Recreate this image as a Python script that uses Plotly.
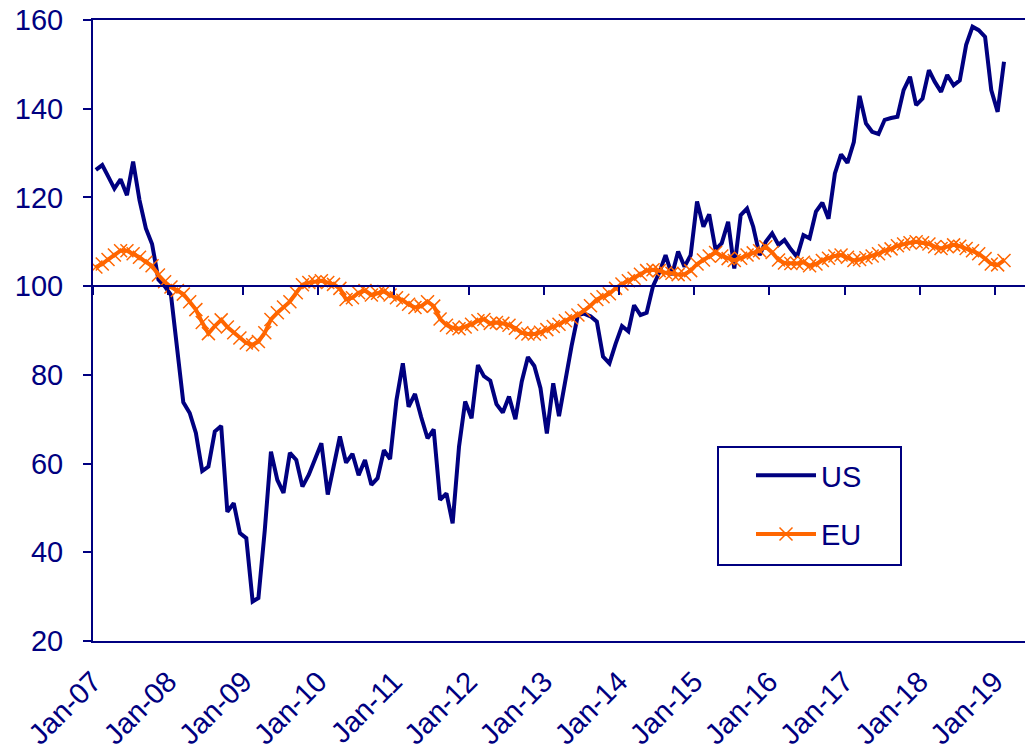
import pandas as pd
import plotly.graph_objects as go

# Monthly observations, Jan-07 .. Feb-19 (plotted mid-month)
months = pd.date_range("2007-01-01", periods=146, freq="MS") + pd.Timedelta(days=14)

us = [
    126.2, 127.3, 124.8, 122.0, 124.1, 120.5, 128.1, 119.4, 113.0, 109.5,
    101.5, 100.0, 98.0, 86.0, 73.8, 71.4, 66.9, 58.3, 59.3, 67.2,
    68.5, 49.1, 51.1, 44.3, 43.2, 28.9, 29.7, 45.0, 62.7, 56.3,
    53.4, 62.4, 60.8, 54.8, 57.5, 61.0, 64.6, 53.0, 59.5, 66.1,
    60.2, 62.2, 57.4, 60.8, 55.2, 56.7, 63.0, 61.0, 74.3, 82.6,
    72.8, 75.7, 70.5, 65.7, 67.7, 51.8, 53.3, 46.5, 63.8, 74.0,
    70.2, 82.2, 79.7, 78.7, 73.4, 71.5, 75.1, 70.0, 78.5, 84.0,
    82.0, 77.0, 66.8, 78.1, 70.7, 79.0, 86.5, 93.5, 93.8, 93.2,
    92.0, 84.1, 82.6, 87.0, 91.0, 89.8, 95.7, 93.5, 94.0, 100.0,
    103.0, 107.0, 102.5, 107.8, 104.4, 107.0, 119.1, 113.4, 116.2, 108.2,
    109.7, 114.5, 104.0, 116.0, 117.5, 113.4, 107.0, 110.0, 111.9, 109.3,
    110.4, 108.3, 106.6, 111.5, 110.8, 116.8, 118.8, 115.2, 125.4, 129.7,
    127.8, 132.5, 142.9, 136.7, 134.8, 134.3, 137.5, 137.9, 138.2, 144.2,
    147.2, 140.8, 142.3, 148.7, 146.1, 143.8, 147.6, 145.3, 146.4, 154.4,
    158.5, 157.7, 156.2, 144.2, 139.3, 150.6,
]

eu = [
    104.3, 105.0, 106.0, 107.0, 108.0, 108.0, 107.3, 106.5, 105.4, 104.6,
    102.5, 101.0, 99.8, 99.0, 98.2, 96.5, 94.7, 91.8, 89.3, 91.0,
    92.4, 90.8, 89.5, 88.3, 87.2, 86.8, 87.5, 89.5, 92.5, 94.0,
    95.3, 96.5, 98.5, 100.3, 100.8, 101.0, 101.2, 100.8, 100.4, 99.5,
    97.0, 97.4, 98.5, 99.0, 98.0, 98.4, 98.8, 98.0, 97.4, 96.8,
    95.9, 95.2, 95.5, 96.5, 95.5, 92.6, 91.2, 90.6, 90.4, 90.8,
    91.4, 92.2, 92.5, 91.6, 91.8, 91.6, 91.2, 90.5, 89.5, 89.2,
    89.2, 89.6, 90.2, 90.9, 91.4, 92.2, 92.8, 93.5, 94.5, 95.6,
    97.0, 97.6, 98.3, 99.5, 100.5, 101.2, 101.8, 102.7, 103.5, 103.7,
    103.5, 103.0, 102.9, 102.6, 102.7, 103.5, 105.0, 105.9, 106.8, 107.6,
    106.8, 106.2, 105.8, 106.3, 107.0, 107.5, 108.0, 108.9, 107.6, 105.9,
    105.2, 105.1, 105.1, 105.4, 104.6, 105.0, 105.8, 106.3, 106.8, 107.0,
    106.5, 105.8, 106.0, 106.4, 106.8, 107.3, 108.0, 108.4, 109.1, 109.5,
    109.8, 110.0, 109.8, 109.5, 108.9, 108.5, 108.9, 109.3, 109.0, 108.5,
    108.0, 107.3, 106.2, 105.0, 104.8, 105.8,
]

tick_dates = [f"{y}-01-01" for y in range(2007, 2020)]
tick_labels = [f"Jan-{y % 100:02d}" for y in range(2007, 2020)]
y_ticks = [20, 40, 60, 80, 100, 120, 140, 160]
base_level = 100  # horizontal axis crosses the value axis here
x_range = ["2007-01-01", "2019-05-28"]
y_range = [20, 160]

NAVY = "#000080"
ORANGE = "#FF6600"
FONT = "Liberation Sans, Arial, sans-serif"
FS = 29

fig = go.Figure()
fig.add_trace(go.Scatter(
    x=months, y=us, name="US", mode="lines", legendgroup="us",
    line=dict(color=NAVY, width=4),
))
fig.add_trace(go.Scatter(
    x=months, y=eu, name="EU", mode="lines+markers", legendgroup="eu",
    line=dict(color=ORANGE, width=4),
    marker=dict(symbol="x-thin", size=13, color=ORANGE,
                line=dict(color=ORANGE, width=1.5)),
))
# invisible helper so the crossing axis (ticks at 100) gets drawn
fig.add_trace(go.Scatter(
    x=tick_dates, y=[base_level] * len(tick_dates), xaxis="x2",
    mode="lines", line=dict(width=0), opacity=0,
    showlegend=False, hoverinfo="skip",
))

# legend frame (pixel box 718..901 x 447..565 within plot 93..1025 x 20..641)
fig.add_shape(
    type="rect", xref="paper", yref="paper",
    x0=(718 - 93) / 932, x1=(901 - 93) / 932,
    y0=(641 - 565) / 621, y1=(641 - 447) / 621,
    line=dict(color=NAVY, width=2), fillcolor="white", layer="below",
)

fig.update_layout(
    width=1025, height=750,
    margin=dict(l=93, r=0, t=20, b=109, autoexpand=False),
    paper_bgcolor="white", plot_bgcolor="white",
    font=dict(family=FONT, size=FS, color=NAVY),
    xaxis=dict(
        type="date", range=x_range, automargin=False,
        tickvals=tick_dates, ticktext=tick_labels, tickangle=-45,
        ticks="", showline=True, mirror=True, linecolor=NAVY, linewidth=2,
        showgrid=False, zeroline=False, ticklabelstandoff=10,
        ticklabeloverflow="allow",
        tickfont=dict(family=FONT, size=FS, color=NAVY),
    ),
    xaxis2=dict(
        type="date", overlaying="x", range=x_range, anchor="free",
        position=(base_level - y_range[0]) / (y_range[1] - y_range[0]),
        side="bottom", automargin=False,
        tickvals=tick_dates, showticklabels=False,
        ticks="outside", ticklen=8, tickwidth=2, tickcolor=NAVY,
        showline=True, linecolor=NAVY, linewidth=2,
        showgrid=False, zeroline=False,
    ),
    yaxis=dict(
        range=y_range, tickvals=y_ticks, automargin=False,
        ticks="outside", ticklen=8, tickwidth=2, tickcolor=NAVY,
        showline=True, linecolor=NAVY, linewidth=2,
        showgrid=False, zeroline=False, ticklabelstandoff=14,
        ticklabeloverflow="allow",
        tickfont=dict(family=FONT, size=FS, color=NAVY),
    ),
    showlegend=True,
    legend=dict(
        x=(751 - 93) / 932, y=(641 - 450) / 621, xanchor="left", yanchor="top",
        borderwidth=0, bgcolor="rgba(0,0,0,0)",
        font=dict(family=FONT, size=FS, color=NAVY),
        traceorder="grouped", tracegroupgap=18, itemwidth=60,
    ),
)

fig.write_html(
    "out.html",
    config={"displayModeBar": False},
    post_script="document.body.style.margin='0';document.body.style.overflow='hidden';",
)
